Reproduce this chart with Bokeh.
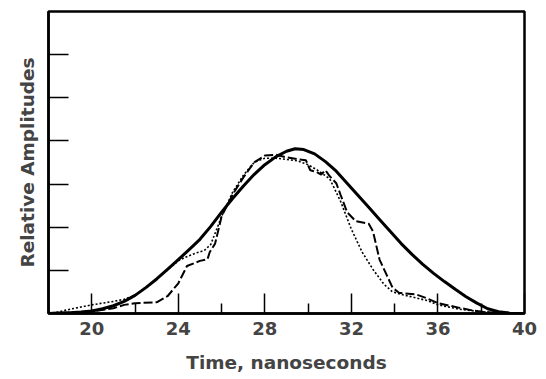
from bokeh.plotting import figure
from bokeh.models import FixedTicker, Range1d
from bokeh.embed import file_html
from bokeh.resources import INLINE

# Fitted (smooth) pulse
fit_t = [18, 18.5, 19, 19.5, 20, 20.5, 21, 21.5, 22, 22.5, 23, 23.5, 24, 24.5, 25, 25.5, 26, 26.5, 27, 27.5,
         28, 28.5, 29, 29.4, 29.8, 30.3, 30.8, 31.3, 31.8, 32.3, 32.8, 33.3, 33.8, 34.3, 34.8, 35.3, 35.8,
         36.3, 36.8, 37.3, 37.8, 38.3, 38.8, 39.3, 40]
fit_a = [0.0, 0.01, 0.02, 0.035, 0.06, 0.11, 0.18, 0.28, 0.42, 0.6, 0.8, 1.02, 1.25, 1.48, 1.72, 2.02, 2.35, 2.66,
         2.95, 3.22, 3.45, 3.63, 3.76, 3.82, 3.8, 3.7, 3.52, 3.3, 3.02, 2.74, 2.46, 2.18, 1.9, 1.62, 1.37, 1.14,
         0.93, 0.74, 0.56, 0.39, 0.24, 0.11, 0.04, 0.01, 0.0]

# Measured pulse (dashed)
dash_t = [18, 19, 20, 21, 21.5, 22, 23, 23.5, 24, 24.4, 25.0, 25.35, 25.45, 25.7, 26.0, 26.5, 27.0, 27.5, 28.0,
          28.5, 29.0, 29.5, 29.9, 30.1, 30.4, 30.6, 30.8, 31.0, 31.3, 31.5, 31.8, 32.2, 32.8, 33.0, 33.3, 33.9,
          34.2, 35.0, 35.5, 36.0, 37.0, 37.6, 38.2, 39, 40]
dash_a = [0.0, 0.02, 0.05, 0.12, 0.2, 0.24, 0.26, 0.4, 0.7, 1.1, 1.22, 1.26, 1.42, 1.62, 2.25, 2.75, 3.15, 3.5, 3.66,
          3.68, 3.62, 3.58, 3.55, 3.32, 3.28, 3.22, 3.32, 3.18, 3.02, 2.75, 2.35, 2.14, 2.08, 1.9, 1.25, 0.6,
          0.48, 0.44, 0.35, 0.24, 0.13, 0.07, 0.03, 0.01, 0.0]

# Measured pulse (dotted)
dot_t = [18, 18.5, 19, 19.5, 20, 20.5, 21, 21.5, 22, 23, 24, 24.3, 24.8, 25.2, 25.5, 26, 26.5, 27, 27.5, 28,
         28.5, 29, 29.5, 30, 30.5, 31, 31.5, 32, 32.5, 33, 33.5, 33.9, 34.5, 35, 35.5, 36, 37, 38, 39, 40]
dot_a = [0.0, 0.04, 0.1, 0.15, 0.2, 0.24, 0.28, 0.33, 0.42, 0.8, 1.22, 1.3, 1.4, 1.46, 1.6, 2.25, 2.8, 3.2, 3.5, 3.6,
         3.6, 3.57, 3.54, 3.45, 3.3, 3.12, 2.6, 1.95, 1.42, 1.02, 0.68, 0.5, 0.42, 0.36, 0.3, 0.2, 0.1, 0.04, 0.01, 0.0]

x_major = [20, 24, 28, 32, 36, 40]
x_minor = [22, 26, 30, 34, 38]
y_ticks = [1, 2, 3, 4, 5, 6]

FONT = "DejaVu Sans"

p = figure(width=546, height=379, output_backend="svg", toolbar_location=None,
           x_range=Range1d(18, 40), y_range=Range1d(0, 7),
           min_border_left=48, min_border_right=22, min_border_top=11, min_border_bottom=66)
p.background_fill_color = "white"
p.border_fill_color = "white"
p.grid.visible = False
p.outline_line_color = "black"
p.outline_line_width = 2.5

p.line(fit_t, fit_a, line_color="black", line_width=3, line_join="round")
p.line(dash_t, dash_a, line_color="black", line_width=2, line_dash="9 3")
p.line(dot_t, dot_a, line_color="black", line_width=1.6, line_dash="2 2")

xa = p.xaxis[0]
xa.ticker = FixedTicker(ticks=x_major, minor_ticks=x_minor)
xa.major_tick_in = 20
xa.major_tick_out = 0
xa.minor_tick_in = 10
xa.minor_tick_out = 0
xa.major_tick_line_width = 1.5
xa.minor_tick_line_width = 1.5
xa.axis_line_width = 2.5
xa.major_label_standoff = 8
xa.major_label_text_font = FONT
xa.major_label_text_font_style = "bold"
xa.major_label_text_font_size = "18px"
xa.axis_label = "Time, nanoseconds"
xa.axis_label_text_font = FONT
xa.axis_label_text_font_style = "bold"
xa.axis_label_text_font_size = "18.5px"
xa.axis_label_standoff = 14

ya = p.yaxis[0]
ya.ticker = FixedTicker(ticks=y_ticks, minor_ticks=[])
ya.major_tick_in = 20
ya.major_tick_out = 0
ya.major_tick_line_width = 1.5
ya.axis_line_width = 2.5
ya.major_label_overrides = {t: "" for t in y_ticks}
ya.major_label_standoff = 0
ya.axis_label = "Relative Amplitudes"
ya.axis_label_text_font = FONT
ya.axis_label_text_font_style = "bold"
ya.axis_label_text_font_size = "18.5px"
ya.axis_label_standoff = 11

open("out.html", "w").write(file_html(p, INLINE))
